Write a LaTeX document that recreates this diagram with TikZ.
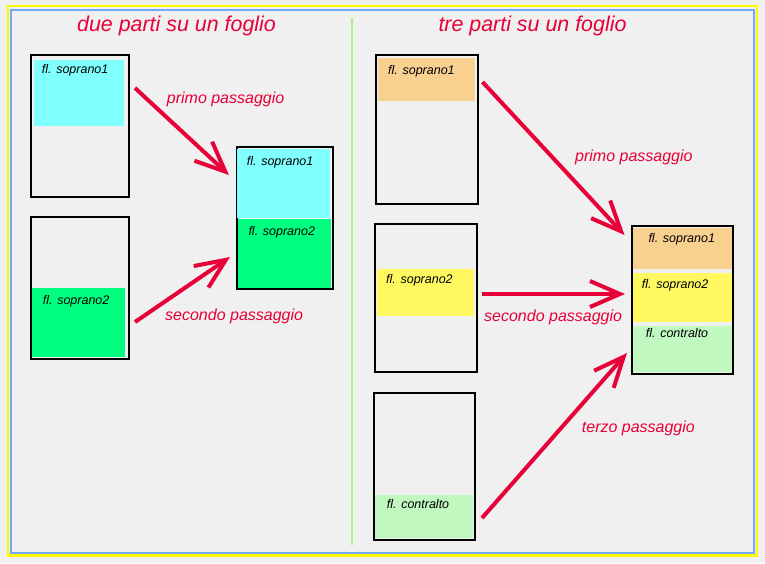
\documentclass[tikz,border=0pt]{standalone}
\usepackage{fontspec}
\setmainfont{Liberation Sans}
\usetikzlibrary{arrows.meta}
\definecolor{paper}{RGB}{240,240,240}
\definecolor{passred}{RGB}{232,0,56}
\definecolor{frameyellow}{RGB}{255,250,0}
\definecolor{frameblue}{RGB}{112,170,248}
\definecolor{divgreen}{RGB}{176,240,128}
\definecolor{partcyan}{RGB}{128,255,255}
\definecolor{partgreen}{RGB}{0,255,128}
\definecolor{partorange}{RGB}{248,208,144}
\definecolor{partyellow}{RGB}{255,248,96}
\definecolor{partmint}{RGB}{192,248,192}
\begin{document}
\begin{tikzpicture}[x=1pt, y=-1pt,
    sheet/.style={draw, line width=2pt, outer sep=0pt, inner sep=0pt, anchor=north west},
    part/.style={outer sep=0pt, inner sep=0pt, anchor=north west},
    voice/.style={anchor=base west, inner sep=0pt, font=\itshape\fontsize{12.5}{14}\selectfont},
    pass/.style={anchor=base west, inner sep=0pt, text=passred, font=\itshape\fontsize{16}{18}\selectfont},
    heading/.style={anchor=base west, inner sep=0pt, text=passred, font=\itshape\fontsize{21.4}{24}\selectfont},
    move/.style={draw=passred, line width=4pt, -{Straight Barb[length=30pt, width=26pt]}}]
    \useasboundingbox (0,0) rectangle (765,563);
    \fill[paper] (0,0) rectangle (765,563);
    \draw[frameyellow, line width=2.3pt] (8,6) rectangle (756.7,555.5);
    \draw[frameblue, line width=1.8pt] (11,10) rectangle (754.2,553.2);
    \draw[divgreen, line width=2pt] (352,18) -- (352,545);

    % due parti
    \node[heading] (t1) at (77,31.7) {due parti su un foglio};
    \node[sheet, minimum width=98pt, minimum height=142.5pt] (A) at (31,54.5) {};
    \node[sheet, minimum width=98pt, minimum height=142.5pt] (B) at (31,216.5) {};
    \node[sheet, minimum width=96.3pt, minimum height=142.3pt] (C) at (236.7,146.7) {};
    \node[part, fill=partcyan, minimum width=90pt, minimum height=66pt] (A1) at (34,60) {};
    \node[part, fill=partgreen, minimum width=93pt, minimum height=68.7pt] (B2) at (32,288) {};
    \node[part, fill=partcyan, minimum width=92.7pt, minimum height=68.4pt] (C1) at (237.3,149.3) {};
    \node[part, fill=partgreen, minimum width=93.5pt, minimum height=69.3pt] (C2) at (237.5,219) {};
    \node[voice] (a1) at (41.7,73.5) {fl. soprano1};
    \node[voice] (b2) at (42.7,304) {fl. soprano2};
    \node[voice] (c1) at (246.7,165) {fl. soprano1};
    \node[voice] (c2) at (248.3,235) {fl. soprano2};
    \coordinate (p1s) at (135,88);
    \coordinate (p1e) at (229,175);
    \coordinate (p2s) at (135,322);
    \coordinate (p2e) at (230,257);
    \draw[move] (p1s) -- (p1e);
    \draw[move] (p2s) -- (p2e);
    \node[pass] (l1) at (166.7,103) {primo passaggio};
    \node[pass] (l2) at (165,320) {secondo passaggio};

    % tre parti
    \node[heading] (t2) at (438.3,31.7) {tre parti su un foglio};
    \node[sheet, minimum width=102pt, minimum height=149pt] (D) at (375.5,54.5) {};
    \node[sheet, minimum width=102pt, minimum height=148.5pt] (E) at (375,223.5) {};
    \node[sheet, minimum width=101.6pt, minimum height=147.3pt] (F) at (373.7,392.7) {};
    \node[sheet, minimum width=101.6pt, minimum height=147.7pt] (G) at (631.7,226.3) {};
    \node[part, fill=partorange, minimum width=97pt, minimum height=42.7pt] (D1) at (378,58) {};
    \node[part, fill=partyellow, minimum width=97pt, minimum height=46.5pt] (E2) at (377,269) {};
    \node[part, fill=partmint, minimum width=98.3pt, minimum height=42.7pt] (F3) at (375,495) {};
    \node[part, fill=partorange, minimum width=99pt, minimum height=41pt] (G1) at (633,228) {};
    \node[part, fill=partyellow, minimum width=99pt, minimum height=48.4pt] (G2) at (633,273.3) {};
    \node[part, fill=partmint, minimum width=99pt, minimum height=45.7pt] (G3) at (633,326) {};
    \node[voice] (d1) at (388,74) {fl. soprano1};
    \node[voice] (e2) at (386,283) {fl. soprano2};
    \node[voice] (f3) at (386.7,508.3) {fl. contralto};
    \node[voice] (g1) at (648.3,242.3) {fl. soprano1};
    \node[voice] (g2) at (641.7,288.3) {fl. soprano2};
    \node[voice] (g3) at (645.7,337.3) {fl. contralto};
    \coordinate (q1s) at (482.5,82);
    \coordinate (q1e) at (624.5,235);
    \coordinate (q2s) at (482,294);
    \coordinate (q2e) at (625,294);
    \coordinate (q3s) at (482,518);
    \coordinate (q3e) at (627,353);
    \draw[move] (q1s) -- (q1e);
    \draw[move] (q2s) -- (q2e);
    \draw[move] (q3s) -- (q3e);
    \node[pass] (m1) at (575,161.7) {primo passaggio};
    \node[pass] (m2) at (484,321.7) {secondo passaggio};
    \node[pass] (m3) at (581.7,432.3) {terzo passaggio};
\end{tikzpicture}
\end{document}
